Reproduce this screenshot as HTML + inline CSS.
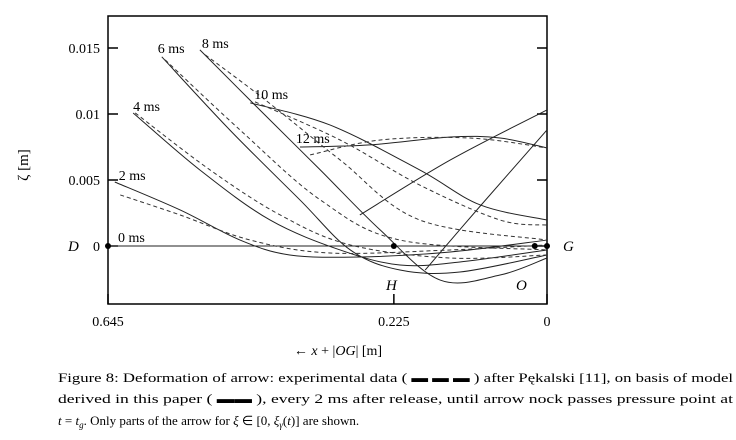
<!DOCTYPE html>
<html><head><meta charset="utf-8"><style>
body{margin:0;background:#fff;}
svg{display:block;font-family:"Liberation Serif",serif;}
</style></head><body>
<svg id="chart" width="736" height="440" viewBox="0 0 736 440" xmlns="http://www.w3.org/2000/svg">
<rect x="108" y="16" width="439" height="288" fill="none" stroke="#000" stroke-width="1.5"/>
<g id="ticks"></g>
<g id="series"></g>
<g id="labels"></g>
<text x="28" y="165" transform="rotate(-90 28 165)" font-size="15" text-anchor="middle">ζ [m]</text>
<text x="338" y="355" font-size="14" text-anchor="middle">← <tspan font-style="italic">x</tspan> + |<tspan font-style="italic">OG</tspan>| [m]</text>
<text x="58" y="382" font-size="13" textLength="675" lengthAdjust="spacingAndGlyphs">Figure 8: Deformation of arrow: experimental data ( ▬ ▬ ▬ ) after Pękalski [11], on basis of model</text>
<text x="58" y="403" font-size="13" textLength="675" lengthAdjust="spacingAndGlyphs">derived in this paper ( ▬▬ ), every 2 ms after release, until arrow nock passes pressure point at</text>
<text x="58" y="425" font-size="13"><tspan font-style="italic">t</tspan> = <tspan font-style="italic">t</tspan><tspan font-size="9" font-style="italic" dy="3">g</tspan><tspan dy="-3">. Only parts of the arrow for </tspan><tspan font-style="italic">ξ</tspan> ∈ [0, <tspan font-style="italic">ξ</tspan><tspan font-size="9" font-style="italic" dy="3">γ</tspan><tspan dy="-3">(</tspan><tspan font-style="italic">t</tspan>)] are shown.</text>
</svg>
<script>
const yTicks=[0,0.005,0.01,0.015];
const yTickLabels=["0","0.005","0.01","0.015"];
const xTicks=[0.645,0.225,0];
const xTickLabels=["0.645","0.225","0"];
const timeLabels=["0 ms","2 ms","4 ms","6 ms","8 ms","10 ms","12 ms"];
const s0=[[0.645,0],[0,0]];
const s2=[[0.635,0.00485],[0.539,0.00273],[0.451,0.00045],[0.378,-0.00068],[0.275,-0.00083],[0.142,-0.00045],[0,0.00045]];
const d2=[[0.627,0.00387],[0.539,0.00235],[0.436,0.00045],[0.319,-0.00053],[0.142,-0.00030],[0,0.00008]];
const s4=[[0.608,0.01008],[0.510,0.00576],[0.407,0.00197],[0.304,-0.00030],[0.216,-0.00144],[0.128,-0.00121],[0,-0.00030]];
const d4=[[0.605,0.01008],[0.495,0.00576],[0.392,0.00235],[0.289,0.00008],[0.142,-0.00091],[0,-0.00068]];
const s6=[[0.566,0.01433],[0.466,0.00879],[0.363,0.00349],[0.289,-0.00030],[0.216,-0.00182],[0.128,-0.00197],[0,-0.00068]];
const d6=[[0.561,0.01410],[0.451,0.00879],[0.333,0.00349],[0.216,0.00045],[0,-0.00030]];
const s8=[[0.510,0.01486],[0.422,0.01031],[0.333,0.00576],[0.245,0.00121],[0.157,-0.00258],[0.069,-0.00220],[0,-0.00091]];
const d8=[[0.502,0.01448],[0.414,0.01107],[0.304,0.00652],[0.187,0.00197],[0,0.00045]];
const s10=[[0.436,0.01084],[0.319,0.00917],[0.187,0.00576],[0.098,0.00311],[0,0.00197]];
const d10=[[0.429,0.01092],[0.304,0.00803],[0.187,0.00462],[0.069,0.00197],[0,0.00159]];
const s12=[[0.363,0.00750],[0.260,0.00766],[0.142,0.00826],[0.069,0.00818],[0,0.00743]];
const d12=[[0.348,0.00690],[0.245,0.00803],[0.113,0.00818],[0,0.00743]];
const s14=[[0.275,0.00235],[0.142,0.00652],[0,0.01031]];
const s16=[[0.179,-0.00182],[0.098,0.00303],[0,0.00879]];
const points=[[0.645,0],[0.225,0],[0.018,0],[0,0]];
const solids=[s0,s2,s4,s6,s8,s10,s12,s14,s16];
const dashes=[d2,d4,d6,d8,d10,d12];
const NS="http://www.w3.org/2000/svg";
const X=v=>547-v/0.645*439;
const Y=v=>246-v/0.005*66;
function pathD(pts){
  const p=pts.map(q=>[X(q[0]),Y(q[1])]);
  let d="M"+p[0][0]+","+p[0][1];
  for(let i=0;i<p.length-1;i++){
    const p0=p[i-1]||p[i],p1=p[i],p2=p[i+1],p3=p[i+2]||p2;
    const c1=[p1[0]+(p2[0]-p0[0])/6,p1[1]+(p2[1]-p0[1])/6];
    const c2=[p2[0]-(p3[0]-p1[0])/6,p2[1]-(p3[1]-p1[1])/6];
    d+=" C"+c1+" "+c2+" "+p2;
  }
  return d;
}
const ser=document.getElementById("series");
solids.forEach((s,i)=>{
  const e=document.createElementNS(NS,"path");
  e.setAttribute("d",pathD(s));e.setAttribute("fill","none");e.setAttribute("stroke","#222");e.setAttribute("stroke-width","1");
  
  
  ser.appendChild(e);
});
dashes.forEach((s,i)=>{
  const e=document.createElementNS(NS,"path");
  e.setAttribute("d",pathD(s));e.setAttribute("fill","none");e.setAttribute("stroke","#333");e.setAttribute("stroke-width","1");e.setAttribute("stroke-dasharray","4,3");
  
  
  ser.appendChild(e);
});
points.forEach(p=>{
  const c=document.createElementNS(NS,"circle");
  c.setAttribute("cx",X(p[0]));c.setAttribute("cy",Y(p[1]));c.setAttribute("r","3");
  
  
  ser.appendChild(c);
});
const tk=document.getElementById("ticks");
yTicks.forEach((v,i)=>{
  const l=document.createElementNS(NS,"line");
  l.setAttribute("x1",108);l.setAttribute("x2",118);l.setAttribute("y1",Y(v));l.setAttribute("y2",Y(v));l.setAttribute("stroke","#000");l.setAttribute("stroke-width","1.5");
  
  
  tk.appendChild(l);
  const r=document.createElementNS(NS,"line");
  r.setAttribute("x1",537);r.setAttribute("x2",547);r.setAttribute("y1",Y(v));r.setAttribute("y2",Y(v));r.setAttribute("stroke","#000");r.setAttribute("stroke-width","1.5");
  
  
  tk.appendChild(r);
  const t=document.createElementNS(NS,"text");
  t.setAttribute("x",100);t.setAttribute("y",Y(v)+5);t.setAttribute("text-anchor","end");t.setAttribute("font-size","14");
  t.textContent=yTickLabels[i];
  
  
  tk.appendChild(t);
});
xTicks.forEach((v,i)=>{
  const l=document.createElementNS(NS,"line");
  l.setAttribute("x1",X(v));l.setAttribute("x2",X(v));l.setAttribute("y1",294);l.setAttribute("y2",304);l.setAttribute("stroke","#000");l.setAttribute("stroke-width","1.5");
  
  
  tk.appendChild(l);
  const t=document.createElementNS(NS,"text");
  t.setAttribute("x",X(v));t.setAttribute("y",326);t.setAttribute("text-anchor","middle");t.setAttribute("font-size","14");
  t.textContent=xTickLabels[i];
  
  
  tk.appendChild(t);
});
const lb=document.getElementById("labels");
const starts=[s0,s2,s4,s6,s8,s10,s12];
const offs=[[10,-4],[4,-2],[0,-2],[-4,-4],[2,-2],[4,-4],[-4,-4]];
starts.forEach((s,i)=>{
  const t=document.createElementNS(NS,"text");
  t.setAttribute("x",X(s[0][0])+offs[i][0]);t.setAttribute("y",Y(s[0][1])+offs[i][1]);t.setAttribute("font-size","14");
  t.textContent=timeLabels[i];
  
  
  lb.appendChild(t);
});
[["D",68,251],["H",386,290],["O",516,290],["G",563,251]].forEach(a=>{
  const t=document.createElementNS(NS,"text");
  t.setAttribute("x",a[1]);t.setAttribute("y",a[2]);t.setAttribute("font-size","15");t.setAttribute("font-style","italic");
  t.textContent=a[0];
  
  
  lb.appendChild(t);
});
</script>
</body></html>
